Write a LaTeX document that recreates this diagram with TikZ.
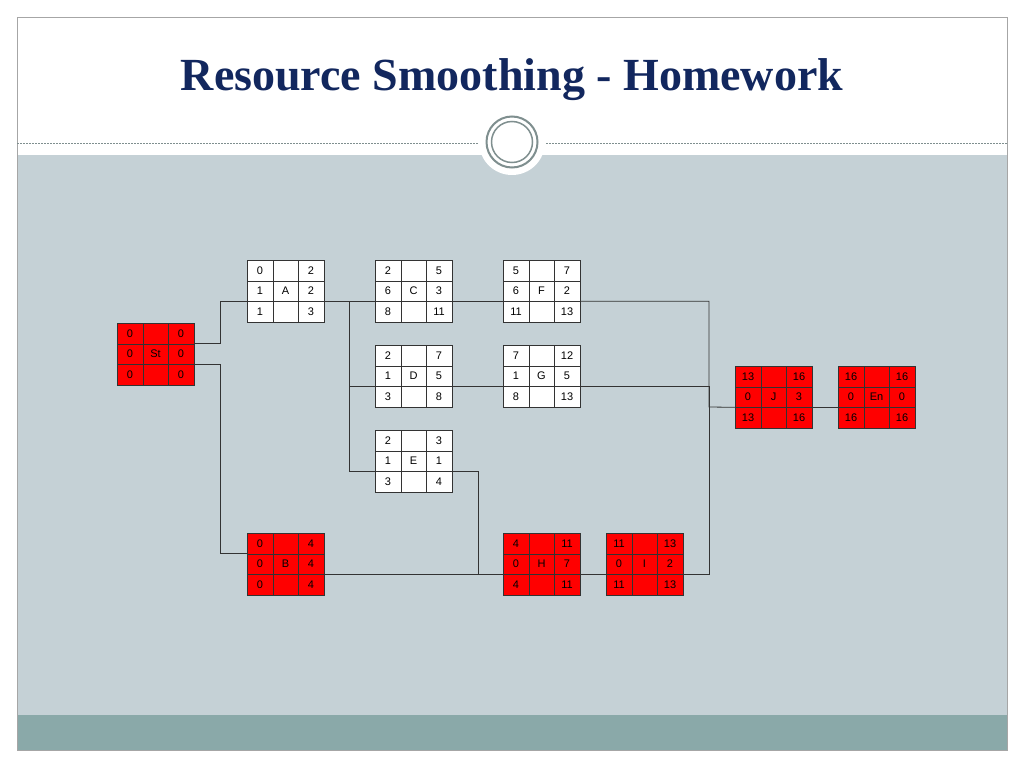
\documentclass[tikz,border=0pt]{standalone}
\usepackage{fontspec}
\setmainfont{Liberation Sans}
\newfontfamily\titlefont{Liberation Serif}
\usetikzlibrary{calc}
\pgfdeclarelayer{slide}
\pgfdeclarelayer{lines}
\pgfsetlayers{slide,lines,main}
\definecolor{bodygray}{HTML}{C5D1D6}
\definecolor{bandgray}{HTML}{8AA9A9}
\definecolor{ringgray}{HTML}{7F8F8F}
\definecolor{titleblue}{HTML}{12275E}
\tikzset{
  actbox/.style={rectangle,draw=black!80,minimum width=77pt,minimum height=62pt,inner sep=0pt},
  cell/.style={font=\fontsize{11}{12}\selectfont,inner sep=0pt},
  link/.style={draw=black!80,line width=0.8pt}
}
% \actbox{name}{x}{y}{fill}{es}{ef}{dur}{name text}{ls} then \cellrow{lf}{tf}
\newcommand\actbox[9]{%
  \node[actbox,fill=#4,anchor=north west] (#1) at (#2,#3) {};
  \draw[black!80] ($(#1.north west)+(26,0)$) -- ($(#1.south west)+(26,0)$)
        ($(#1.north west)+(51,0)$) -- ($(#1.south west)+(51,0)$)
        ($(#1.north west)+(0,21)$) -- ($(#1.north east)+(0,21)$)
        ($(#1.north west)+(0,41)$) -- ($(#1.north east)+(0,41)$);
  \coordinate (#1-e1) at ($(#1.north east)+(0,20.7)$);
  \coordinate (#1-e2) at ($(#1.north east)+(0,41.3)$);
  \coordinate (#1-w1) at ($(#1.north west)+(0,20.7)$);
  \coordinate (#1-w2) at ($(#1.north west)+(0,41.3)$);
  \node[cell] at ($(#1.north west)+(13,10.5)$) {#5};
  \node[cell] at ($(#1.north west)+(64,10.5)$) {#6};
  \node[cell] at ($(#1.north west)+(13,31)$) {#7};
  \node[cell] at ($(#1.north west)+(38.5,31)$) {#8};
  \node[cell] at ($(#1.north west)+(64,31)$) {#9};
  \cellrow{#1}}
\newcommand\cellrow[3]{%
  \node[cell] at ($(#1.north west)+(13,51.5)$) {#2};
  \node[cell] at ($(#1.north west)+(64,51.5)$) {#3};}
\begin{document}
\begin{tikzpicture}[x=1pt,y=-1pt]
  \useasboundingbox (0,0) rectangle (1024,768);
  % slide background
  \begin{pgfonlayer}{slide}
  \fill[white] (0,0) rectangle (1024,768);
  \fill[bodygray] (17,155) rectangle (1007,715);
  \fill[bandgray] (17,715) rectangle (1007,750);
  \draw[black!35] (17,17) rectangle (1007,750);
  \draw[ringgray,dash pattern=on 2pt off 1pt] (17,143) -- (478,143) (546,143) -- (1007,143);
  \fill[white] (512,142) circle (33);
  \draw[ringgray,line width=2pt] (512,142) circle (25.5);
  \draw[ringgray,line width=1.5pt] (512,142) circle (20.5);
  \end{pgfonlayer}
  \node[font=\titlefont\bfseries\fontsize{46}{50}\selectfont,text=titleblue] (title) at (512,80) {Resource Smoothing - Homework};

  \coordinate (jn) at (709,407);
  \actbox{St}{117}{323}{red}{0}{0}{0}{St}{0}{0}{0}
  \actbox{A}{247}{260}{white}{0}{2}{1}{A}{2}{1}{3}
  \actbox{C}{375}{260}{white}{2}{5}{6}{C}{3}{8}{11}
  \actbox{F}{503}{260}{white}{5}{7}{6}{F}{2}{11}{13}
  \actbox{D}{375}{345}{white}{2}{7}{1}{D}{5}{3}{8}
  \actbox{G}{503}{345}{white}{7}{12}{1}{G}{5}{8}{13}
  \actbox{E}{375}{430}{white}{2}{3}{1}{E}{1}{3}{4}
  \actbox{B}{247}{533}{red}{0}{4}{0}{B}{4}{0}{4}
  \actbox{H}{503}{533}{red}{4}{11}{0}{H}{7}{4}{11}
  \actbox{I}{606}{533}{red}{11}{13}{0}{I}{2}{11}{13}
  \actbox{J}{735}{366}{red}{13}{16}{0}{J}{3}{13}{16}
  \actbox{En}{838}{366}{red}{16}{16}{0}{En}{0}{16}{16}

  % connectors
  \begin{pgfonlayer}{lines}
  \draw[link] (St-e1) -- ++(26,0) |- (A-w2);
  \draw[link] (A-e2) -- (C-w2) (C-e2) -- (F-w2);
  \draw[link] (F-e2) -| (jn) -- (J-w2);
  \draw[link] (St-e2) -- ++(26,0) |- (B-w1);
  \draw[link] (B-e2) -- (H-w2) (H-e2) -- (I-w2);
  \draw[link] (I-e2) -| (jn);
  \draw[link] (A-e2) -- ++(25,0) |- (D-w2);
  \draw[link] (A-e2) -- ++(25,0) |- (E-w2);
  \draw[link] (E-e2) -- ++(26,0) |- (H-w2);
  \draw[link] (D-e2) -- (G-w2);
  \draw[link] (G-e2) -| (jn);
  \draw[link] (J-e2) -- (En-w2);
  \end{pgfonlayer}
\end{tikzpicture}
\end{document}
